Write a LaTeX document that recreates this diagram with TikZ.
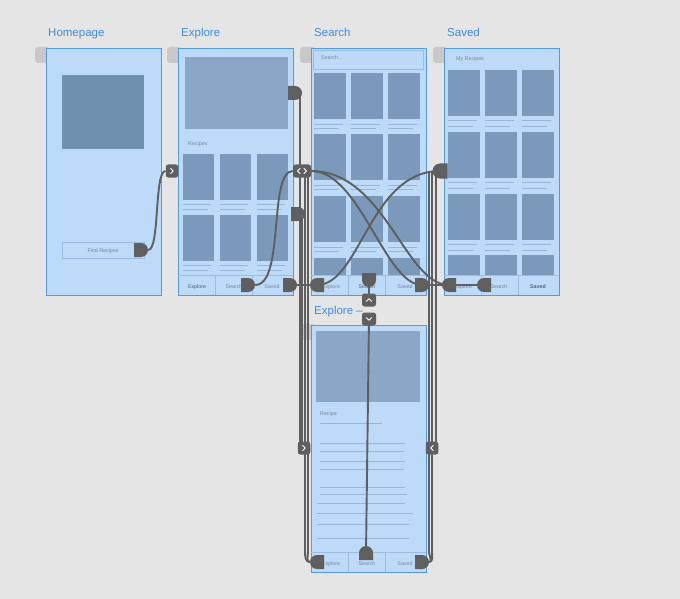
\documentclass[tikz,border=0pt]{standalone}
\usepackage{fontspec}
\setmainfont{Liberation Sans}
\usetikzlibrary{shapes.misc}
\definecolor{bgc}{HTML}{E5E5E5}
\definecolor{framefill}{HTML}{BDDAF8}
\definecolor{frameline}{HTML}{5599E6}
\definecolor{titlec}{HTML}{3C8CE6}
\definecolor{imgdark}{HTML}{7090B0}
\definecolor{imglight}{HTML}{8BA7C8}
\definecolor{thumbc}{HTML}{7B9ABB}
\definecolor{tlinec}{HTML}{9AB6D6}
\definecolor{barline}{HTML}{9CBCE2}
\definecolor{smalltext}{HTML}{7488A2}
\definecolor{activetext}{HTML}{4F6078}
\definecolor{conncol}{HTML}{5F5F5F}
\definecolor{tabgray}{HTML}{C8C8C8}
\pgfdeclarelayer{back}
\pgfdeclarelayer{lines}
\pgfsetlayers{back,lines,main}
\tikzset{
 artboard/.style={draw=frameline, line width=1.4pt, fill=framefill, inner sep=0pt, minimum width=115pt, minimum height=247pt, anchor=north west},
 ttl/.style={text=titlec, font=\fontsize{11.5}{13}\selectfont, inner sep=0pt, anchor=base west},
 smalltxt/.style={text=smalltext, font=\fontsize{5.3}{6}\selectfont, inner sep=0pt, anchor=base},
 activetxt/.style={smalltxt, text=activetext},
 handle/.style={rounded rectangle, fill=conncol, inner sep=0pt, minimum height=14pt, minimum width=13pt},
 hright/.style={handle, rounded rectangle west arc=none},
 hleft/.style={handle, rounded rectangle east arc=none},
 tabbox/.style={rectangle, rounded corners=2.5pt, fill=conncol, inner sep=0pt, minimum width=12.5pt, minimum height=13pt},
 chev/.style={draw=white, line width=0.9pt, line cap=round, line join=round},
 connector/.style={draw=conncol, line width=1.9pt},
 tline/.style={draw=tlinec, line width=0.8pt},
 tabbar/.style={draw=barline, line width=0.6pt},
}
\begin{document}
\begin{tikzpicture}[x=1pt,y=-1pt]
\path[use as bounding box] (0,0) rectangle (680,599);
\begin{pgfonlayer}{back}
\fill[bgc] (0,0) rectangle (680,599);
\foreach \L/\T in {46/48,178/48,311/48,444/48,311/325}
  \fill[tabgray, rounded corners=3pt] (\L-11,\T-1) rectangle (\L+4,\T+15);
\node[artboard] (home) at (46,48) {};
\node[artboard] (explore) at (178,48) {};
\node[artboard] (search) at (311,48) {};
\node[artboard] (saved) at (444,48) {};
\node[artboard] (detail) at (311,325) {};
% Homepage
\fill[imgdark] (62,75) rectangle (144,149);
\node[draw=barline, line width=0.6pt, minimum width=82pt, minimum height=16pt, inner sep=0pt] (findbtn) at (103,250) {};
\node[smalltxt] (findtxt) at (103,252) {Find Recipes};
% Explore
\fill[imglight] (185,57) rectangle (288,129);
\node[smalltxt, anchor=base west] (exrec) at (188,146) {Recipes};
\foreach \x in {183,220,257} \foreach \y in {154,215} {
  \fill[thumbc] (\x,\y) rectangle ++(31,46);
  \draw[tline] (\x,\y+50) -- ++(28,0);
  \draw[tline] (\x,\y+55) -- ++(25,0);
}
% Search
\node[draw=barline, line width=0.6pt, anchor=north west, minimum width=110pt, minimum height=19pt, inner sep=0pt] (sbar) at (313,50) {};
\node[smalltxt, anchor=base west] (stxt) at (321,60) {Search...};
\foreach \x in {314,351,388} {
  \foreach \y in {73,134,196} {
    \fill[thumbc] (\x,\y) rectangle ++(32,46);
    \draw[tline] (\x,\y+51) -- ++(29,0);
    \draw[tline] (\x,\y+55) -- ++(25,0);
  }
  \fill[thumbc] (\x,258) rectangle ++(32,17);
}
% Saved
\node[smalltxt, anchor=base west] (mytxt) at (456,61) {My Recipes};
\foreach \x in {448,485,522} {
  \foreach \y in {70,132,194} {
    \fill[thumbc] (\x,\y) rectangle ++(32,46);
    \draw[tline] (\x,\y+50) -- ++(29,0);
    \draw[tline] (\x,\y+56) -- ++(25,0);
  }
  \fill[thumbc] (\x,255) rectangle ++(32,20);
}
% Detail
\fill[imglight] (316,331) rectangle (420,402);
\node[smalltxt, anchor=base west] (rectxt) at (320,415) {Recipe};
\foreach \a/\b/\y in {320/382/423,320/405/443,320/404/451,320/405/461,320/404/469,320/405/487,320/407/494,317/405/503,317/413/513,317/409/524,317/409/538}
  \draw[tline] (\a,\y) -- (\b,\y);
% tab bars
\foreach \L/\T in {178/275,311/275,444/275,311/552} {
  \draw[tabbar] (\L,\T) -- ++(115,0);
  \draw[tabbar] (\L+37,\T) -- ++(0,20);
  \draw[tabbar] (\L+74,\T) -- ++(0,20);
}
\node[activetxt] (e1) at (197,288) {Explore};
\node[smalltxt] (e2) at (234,288) {Search};
\node[smalltxt] (e3) at (272,288) {Saved};
\node[smalltxt] (s1) at (331,288) {Explore};
\node[activetxt] (s2) at (367,288) {Search};
\node[smalltxt] (s3) at (405,288) {Saved};
\node[smalltxt] (v1) at (463,288) {Explore};
\node[smalltxt] (v2) at (499,288) {Search};
\node[activetxt, font=\bfseries\fontsize{5.3}{6}\selectfont] (v3) at (538,288) {Saved};
\node[smalltxt] (d1) at (331,565) {Explore};
\node[smalltxt] (d2) at (367,565) {Search};
\node[smalltxt] (d3) at (405,565) {Saved};
\end{pgfonlayer}
% handles and arrow tabs
\node[hright] (h1) at (141,250) {};
\node[tabbox] (t1) at (172,171) {};
\node[hright] (h2) at (295,93) {};
\node[hright] (h3) at (298,214) {};
\node[hright] (h4) at (248,285) {};
\node[hright] (h5) at (290,285) {};
\node[tabbox, minimum width=18pt] (t2) at (302,171) {};
\node[hleft] (h6) at (317,285) {};
\node[hright, rotate=-90] (h7) at (369,280) {};
\node[hright] (h8) at (422,285) {};
\node[tabbox, minimum width=14pt] (t3) at (369,300) {};
\node[tabbox, minimum width=14pt] (t4) at (369,319) {};
\node[hleft, minimum width=15pt, minimum height=15pt] (t5) at (440,171) {};
\node[hleft] (h9) at (449,285) {};
\node[hleft] (h10) at (484,285) {};
\node[tabbox] (t6) at (304,448) {};
\node[tabbox] (t7) at (432,448) {};
\node[hleft] (h11) at (317,562) {};
\node[hright, rotate=90] (h12) at (366,553) {};
\node[hright] (h13) at (422,562) {};
% connectors
\begin{pgfonlayer}{lines}
\draw[connector] (h1.east) .. controls (160,250) and (154,171) .. (t1.west);
\draw[connector, rounded corners=4pt] (h2.center) -| (300,448) -- (t6.center);
\draw[connector, rounded corners=4pt] (h3.center) -| (302,448) -- (t6.center);
\draw[connector] (t2.center) ++(3,0) -- (305,552) to[out=-90,in=180] (h11.west);
\draw[connector] (t2.center) ++(6,0) -- (308,552) to[out=-90,in=180] (h11.west);
\draw[connector] (h4.east) .. controls (285,285) and (268,171) .. (t2.west);
\draw[connector] (t2.east) .. controls (360,171) and (385,285) .. (h8.center);
\draw[connector] (t2.east) .. controls (385,171) and (405,285) .. (h9.center);
\draw[connector] (t5.center) .. controls (370,171) and (360,285) .. (h6.center);
\draw[connector] (h5.center) -- (h6.center);
\draw[connector] (h8.center) -- (h9.center);
\draw[connector] (h9.center) -- (h10.center);
\draw[connector] (h7.center) -- (t3.center);
\draw[connector] (t4.center) -- (h12.center);
\draw[connector] (t5.center) ++(-4,0) |- (t7.center);
\draw[connector] (t5.center) ++(-8,0) -- (432,552) to[out=-90,in=0] (h13.east);
\draw[connector] (t5.center) ++(-11,0) -- (429,552) to[out=-90,in=0] (h13.east);
\end{pgfonlayer}
% chevrons
\draw[chev] (t1.center) ++(-1.2,-2.5) -- ++(2.5,2.5) -- ++(-2.5,2.5);
\draw[chev] (t6.center) ++(-1.2,-2.5) -- ++(2.5,2.5) -- ++(-2.5,2.5);
\draw[chev] (t7.center) ++(1.2,-2.5) -- ++(-2.5,2.5) -- ++(2.5,2.5);
\draw[chev] (t2.center) ++(-2,-2.5) -- ++(-2.5,2.5) -- ++(2.5,2.5);
\draw[chev] (t2.center) ++(2,-2.5) -- ++(2.5,2.5) -- ++(-2.5,2.5);
\draw[chev] (t3.center) ++(-2.5,1.2) -- ++(2.5,-2.5) -- ++(2.5,2.5);
\draw[chev] (t4.center) ++(-2.5,-1.2) -- ++(2.5,2.5) -- ++(2.5,-2.5);
% titles
\node[ttl] (ttlhome) at (48,37) {Homepage};
\node[ttl] (ttlexplore) at (181,37) {Explore};
\node[ttl] (ttlsearch) at (314,37) {Search};
\node[ttl] (ttlsaved) at (447,37) {Saved};
\node[ttl] (ttldetail) at (314,314) {Explore –};
\end{tikzpicture}
\end{document}
